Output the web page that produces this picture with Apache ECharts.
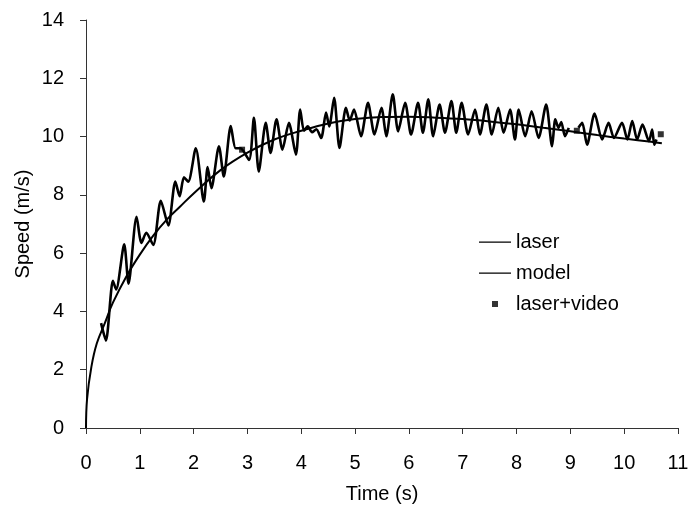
<!DOCTYPE html>
<html>
<head>
<meta charset="utf-8">
<script src="https://cdn.jsdelivr.net/npm/echarts@6/dist/echarts.min.js"></script>
<style>
  html, body { margin: 0; padding: 0; background: #fff; }
  #main { width: 700px; height: 506px; }
</style>
</head>
<body>
<div id="main"></div>
<script>
// laser speed trace, [time (s), speed (m/s)], peaks and troughs
var laserPoints = [
  [0.28, 3.6], [0.37, 3.0], [0.5, 5.05], [0.56, 4.75], [0.71, 6.3], [0.79, 4.95],
  [0.94, 7.25], [1.03, 6.35], [1.12, 6.7], [1.25, 6.28], [1.39, 7.8], [1.53, 6.95],
  [1.66, 8.46], [1.74, 7.95], [1.82, 8.6], [1.9, 8.45], [2.04, 9.6], [2.19, 7.77],
  [2.26, 8.95], [2.33, 8.23], [2.47, 9.67], [2.56, 8.63], [2.69, 10.36], [2.78, 9.6],
  [2.87, 9.6], [3.03, 9.2], [3.12, 10.64], [3.21, 8.8], [3.34, 10.47], [3.43, 9.44],
  [3.54, 10.59], [3.65, 9.55], [3.77, 10.47], [3.9, 9.38], [3.98, 10.93], [4.05, 10.2],
  [4.12, 10.35], [4.2, 10.15], [4.28, 10.25], [4.37, 9.95], [4.46, 10.82], [4.52, 10.35],
  [4.61, 11.33], [4.71, 9.61], [4.83, 10.99], [4.9, 10.55], [4.98, 10.93], [5.11, 10.01],
  [5.24, 11.16], [5.36, 10.07], [5.49, 10.99], [5.58, 10.01], [5.7, 11.45], [5.8, 10.18],
  [5.93, 11.16], [6.04, 10.07], [6.17, 11.16], [6.26, 10.13], [6.36, 11.28], [6.45, 10.01],
  [6.57, 11.1], [6.67, 10.13], [6.79, 11.22], [6.88, 10.13], [6.98, 11.16], [7.1, 10.07],
  [7.23, 10.93], [7.32, 10.07], [7.44, 11.1], [7.54, 10.07], [7.66, 10.99], [7.76, 10.13],
  [7.88, 10.93], [7.97, 9.9], [8.04, 10.93], [8.16, 10.01], [8.28, 10.87], [8.41, 9.95],
  [8.55, 11.1], [8.66, 9.67], [8.72, 10.59], [8.78, 10.3], [8.83, 10.5], [8.9, 10.01],
  [8.97, 10.3], [9.06, '-'],
  [9.15, 10.3], [9.22, 10.47], [9.31, 9.72], [9.45, 10.79], [9.59, 9.9], [9.71, 10.47],
  [9.81, 9.95], [9.96, 10.47], [10.06, 9.9], [10.15, 10.53], [10.24, 9.9], [10.34, 10.41],
  [10.46, 9.84], [10.52, 10.24], [10.56, 9.72], [10.6, 9.9]
];

// fitted model curve
var modelPoints = [
  [0, 0], [0.02, 1.0], [0.1, 2.1], [0.2, 2.9], [0.35, 3.6], [0.5, 4.3], [0.75, 5.2],
  [1.0, 5.95], [1.25, 6.6], [1.5, 7.15], [1.75, 7.6], [2.0, 8.05], [2.5, 8.85],
  [3.0, 9.45], [3.5, 9.9], [4.0, 10.2], [4.5, 10.45], [5.0, 10.6], [5.5, 10.67],
  [6.0, 10.68], [6.5, 10.65], [7.0, 10.6], [7.5, 10.52], [8.0, 10.42], [8.5, 10.3],
  [9.0, 10.18], [9.5, 10.05], [10.0, 9.93], [10.5, 9.82], [10.7, 9.77]
];

// laser+video points
var videoPoints = [[2.9, 9.55], [9.12, 10.2], [10.68, 10.08]];

var seriesNames = ['laser', 'model', 'laser+video'];

(function() {
  var myChart = echarts.init(document.getElementById('main'));
  var font = 'Liberation Sans, Arial, sans-serif';
  // legend icons: invisible corner dots keep the 32x14 box, so the mark keeps its size
  var lineIcon = 'path://M0,0L0.01,0L0,0.01Z M0,6.4h32v1.3h-32Z M32,14L31.99,14L32,13.99Z';
  var squareIcon = 'path://M0,0L0.01,0L0,0.01Z M13,4h6v6h-6Z M32,14L31.99,14L32,13.99Z';

  var option = {
    animation: false,
    backgroundColor: '#fff',
    grid: { left: 86, right: 22, top: 20, bottom: 78, outerBoundsMode: 'none' },
    legend: {
      orient: 'vertical',
      left: 479,
      top: 232,
      padding: 0,
      itemWidth: 32,
      itemHeight: 14,
      itemGap: 11,
      textStyle: { color: '#000', fontSize: 20, fontFamily: font },
      data: [
        { name: seriesNames[0], icon: lineIcon },
        { name: seriesNames[1], icon: lineIcon },
        { name: seriesNames[2], icon: squareIcon }
      ]
    },
    xAxis: {
      type: 'value',
      min: 0,
      max: 11,
      interval: 1,
      name: 'Time (s)',
      nameLocation: 'middle',
      nameGap: 56,
      nameMoveOverlap: false,
      nameTextStyle: { color: '#000', fontSize: 20, fontFamily: font },
      axisLine: { lineStyle: { color: '#333', width: 1 } },
      axisTick: { show: true, length: 6, lineStyle: { color: '#333' } },
      axisLabel: { color: '#000', fontSize: 20, fontFamily: font, margin: 25 },
      splitLine: { show: false }
    },
    yAxis: {
      type: 'value',
      min: 0,
      max: 14,
      interval: 2,
      name: 'Speed (m/s)',
      nameLocation: 'middle',
      nameGap: 53,
      nameMoveOverlap: false,
      nameTextStyle: { color: '#000', fontSize: 20, fontFamily: font },
      axisLine: { show: true, lineStyle: { color: '#333', width: 1 } },
      axisTick: { show: true, length: 6, lineStyle: { color: '#333' } },
      axisLabel: { color: '#000', fontSize: 20, fontFamily: font, margin: 22 },
      splitLine: { show: false }
    },
    series: [
      {
        name: seriesNames[0],
        type: 'line',
        data: laserPoints,
        symbol: 'none',
        smooth: 0.25,
        connectNulls: false,
        lineStyle: { color: '#000', width: 2.6 },
        itemStyle: { color: '#000' },
        z: 3
      },
      {
        name: seriesNames[1],
        type: 'line',
        data: modelPoints,
        symbol: 'none',
        smooth: 0.4,
        lineStyle: { color: '#000', width: 2 },
        itemStyle: { color: '#000' },
        z: 4
      },
      {
        name: seriesNames[2],
        type: 'scatter',
        data: videoPoints,
        symbol: 'rect',
        symbolSize: 6,
        itemStyle: { color: '#000' },
        z: 5
      }
    ]
  };
  myChart.setOption(option);
})();
</script>
</body>
</html>
